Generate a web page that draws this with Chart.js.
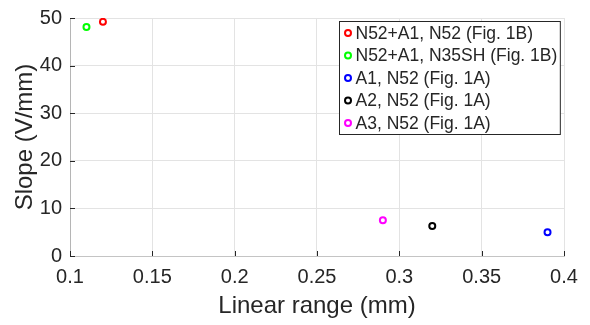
<!DOCTYPE html>
<html>
<head>
<meta charset="utf-8">
<script src="https://cdn.jsdelivr.net/npm/chart.js@4.4.1/dist/chart.umd.min.js"></script>
<style>
  html, body { margin: 0; padding: 0; background: #ffffff; }
  #wrap { width: 590px; height: 325px; }
</style>
</head>
<body>
<div id="wrap"><canvas id="chart" width="590" height="325"></canvas></div>
<script>
// Series (one point each)
const seriesLabels = [
  "N52+A1, N52 (Fig. 1B)",
  "N52+A1, N35SH (Fig. 1B)",
  "A1, N52 (Fig. 1A)",
  "A2, N52 (Fig. 1A)",
  "A3, N52 (Fig. 1A)"
];
const seriesColors = ["#ff0000", "#00ff00", "#0000ff", "#000000", "#ff00ff"];
const linearRange = [0.12, 0.11, 0.39, 0.32, 0.29];   // mm
const slope = [49.2, 48.1, 5.0, 6.3, 7.5];            // V/mm

// Axis ticks
const xTicks = [0.1, 0.15, 0.2, 0.25, 0.3, 0.35, 0.4];
const xTickLabels = ["0.1", "0.15", "0.2", "0.25", "0.3", "0.35", "0.4"];
const yTicks = [0, 10, 20, 30, 40, 50];
const yTickLabels = ["0", "10", "20", "30", "40", "50"];

const textColor = "#262626";
const fontFamily = "'Liberation Sans', Arial, Helvetica, sans-serif";

// inward tick marks, like the original plot
const innerTicks = {
  id: "innerTicks",
  afterDatasetsDraw(chart) {
    const { ctx, chartArea, scales } = chart;
    ctx.save();
    ctx.strokeStyle = textColor;
    ctx.lineWidth = 1;
    ctx.beginPath();
    xTicks.forEach(v => {
      const px = Math.round(scales.x.getPixelForValue(v)) + 0.5;
      ctx.moveTo(px, chartArea.bottom);
      ctx.lineTo(px, chartArea.bottom - 5);
    });
    yTicks.forEach(v => {
      const py = Math.round(scales.y.getPixelForValue(v)) + 0.5;
      ctx.moveTo(chartArea.left, py);
      ctx.lineTo(chartArea.left + 5, py);
    });
    ctx.stroke();
    ctx.restore();
  }
};

// boxed legend inside the plot, top right
const boxLegend = {
  id: "boxLegend",
  afterDraw(chart) {
    const { ctx, chartArea } = chart;
    const rowH = 22.5;
    ctx.save();
    ctx.font = "17.5px " + fontFamily;
    const maxW = Math.max(...seriesLabels.map(t => ctx.measureText(t).width));
    const boxW = 16 + maxW + 3;
    const boxH = rowH * seriesLabels.length + 0.5;
    const left = Math.round(chartArea.right - 4 - boxW) + 0.5;
    const top = Math.round(chartArea.top + 3) + 0.5;
    ctx.fillStyle = "#ffffff";
    ctx.fillRect(left, top, boxW, boxH);
    ctx.strokeStyle = "#262626";
    ctx.lineWidth = 1;
    ctx.strokeRect(left, top, boxW, boxH);
    ctx.textBaseline = "middle";
    ctx.textAlign = "left";
    seriesLabels.forEach((label, i) => {
      const cy = top + 11.5 + i * rowH;
      ctx.beginPath();
      ctx.arc(left + 8.5, cy, 3, 0, Math.PI * 2);
      ctx.fillStyle = "#ffffff";
      ctx.fill();
      ctx.strokeStyle = seriesColors[i];
      ctx.lineWidth = 2;
      ctx.stroke();
      ctx.fillStyle = textColor;
      ctx.fillText(label, left + 16, cy + 1);
    });
    ctx.restore();
  }
};

const datasets = seriesLabels.map((label, i) => ({
  label: label,
  data: [{ x: linearRange[i], y: slope[i] }],
  borderColor: seriesColors[i],
  backgroundColor: "#ffffff",
  pointRadius: 3,
  pointBorderWidth: 2,
  pointHoverRadius: 3
}));

new Chart(document.getElementById("chart"), {
  type: "scatter",
  data: { datasets: datasets },
  plugins: [innerTicks, boxLegend],
  options: {
    responsive: false,
    animation: false,
    layout: { padding: { top: 11.5, right: 26, bottom: 0, left: 0 } },
    plugins: {
      legend: { display: false },
      tooltip: { enabled: false }
    },
    scales: {
      x: {
        type: "linear",
        min: 0.1,
        max: 0.4,
        afterFit: scale => { scale.height = 69; },
        afterBuildTicks: scale => { scale.ticks = xTicks.map(v => ({ value: v })); },
        ticks: {
          padding: 11,
          color: textColor,
          font: { family: fontFamily, size: 20, lineHeight: 1 },
          maxRotation: 0,
          callback: (v) => xTickLabels[xTicks.indexOf(v)]
        },
        grid: { color: "#e3e3e3", drawTicks: false },
        border: { color: "#c4c4c4" },
        title: {
          display: true,
          text: "Linear range (mm)",
          color: textColor,
          font: { family: fontFamily, size: 24, lineHeight: 1 },
          padding: { top: 0, bottom: 7 }
        }
      },
      y: {
        type: "linear",
        min: 0,
        max: 50,
        afterFit: scale => { scale.width = 70; },
        afterBuildTicks: scale => { scale.ticks = yTicks.map(v => ({ value: v })); },
        ticks: {
          padding: 8,
          color: textColor,
          font: { family: fontFamily, size: 20, lineHeight: 1 },
          callback: (v) => yTickLabels[yTicks.indexOf(v)]
        },
        grid: { color: "#e3e3e3", drawTicks: false },
        border: { color: "#b5b5b5" },
        title: {
          display: true,
          text: "Slope (V/mm)",
          color: textColor,
          font: { family: fontFamily, size: 24, lineHeight: 1 },
          padding: { top: 13, bottom: 0 }
        }
      }
    }
  }
});
</script>
</body>
</html>
